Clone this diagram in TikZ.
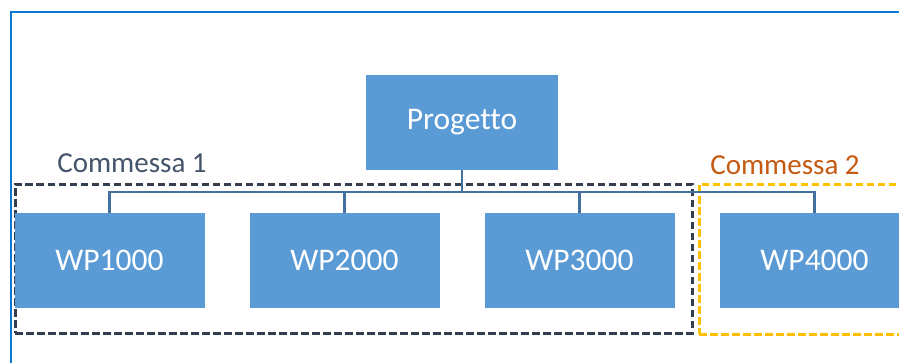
\documentclass[tikz,border=0pt]{standalone}
\usepackage{fontspec}
\setmainfont[Ligatures=NoCommon]{Carlito}
\definecolor{boxblue}{HTML}{5B9BD5}
\definecolor{linkblue}{HTML}{41719C}
\definecolor{frameblue}{HTML}{0A78D2}
\definecolor{darkslate}{HTML}{333F50}
\definecolor{labelslate}{HTML}{44546A}
\definecolor{amber}{HTML}{FFC000}
\definecolor{rust}{HTML}{C55A11}
\tikzset{
  wpbox/.style={fill=boxblue, draw=none, text=white, minimum width=190pt, minimum height=95pt, inner sep=0pt, font=\fontsize{31.5}{38}\selectfont},
  link/.style={draw=linkblue, line width=2.6pt},
  groupone/.style={draw=darkslate, line width=3pt, dash pattern=on 7.5pt off 3.5pt, inner sep=0pt},
  grouptwo/.style={draw=amber, line width=3pt, dash pattern=on 7.5pt off 3.5pt, inner sep=0pt},
  grplabel/.style={font=\fontsize{29}{35}\selectfont, inner sep=0pt}
}
\begin{document}
\begin{tikzpicture}[x=1pt,y=-1pt]
\useasboundingbox (0,0) rectangle (899,362);
\clip (0,0) rectangle (899,362);
\fill[white] (0,0) rectangle (899,362);
% frame
\draw[frameblue, line width=2.6pt] (11,400) -- (11,12) -- (920,12);
% group boxes
\node[groupone, minimum width=677pt, minimum height=149pt] (c1) at (353.5,258.5) {};
\node[grouptwo, minimum width=260pt, minimum height=150pt] (c2) at (829,259) {};
\node[grplabel, text=labelslate] (l1) at (132,163) {Commessa 1};
\node[grplabel, text=rust] (l2) at (785,165) {Commessa 2};
% boxes
\node[wpbox, minimum width=192pt] (prog) at (462,122.5) {Progetto};
\node[wpbox] (wp1) at (109.5,260.5) {WP1000};
\node[wpbox] (wp2) at (344.5,260.5) {WP2000};
\node[wpbox] (wp3) at (579.5,260.5) {WP3000};
\node[wpbox] (wp4) at (814.5,260.5) {WP4000};
% connectors
\coordinate (bus) at (462,192);
\draw[link] (prog.south) -- (bus);
\draw[link] (bus) -| (wp1.north);
\draw[link] (bus) -| (wp2.north);
\draw[link] (bus) -| (wp3.north);
\draw[link] (bus) -| (wp4.north);
\end{tikzpicture}
\end{document}
